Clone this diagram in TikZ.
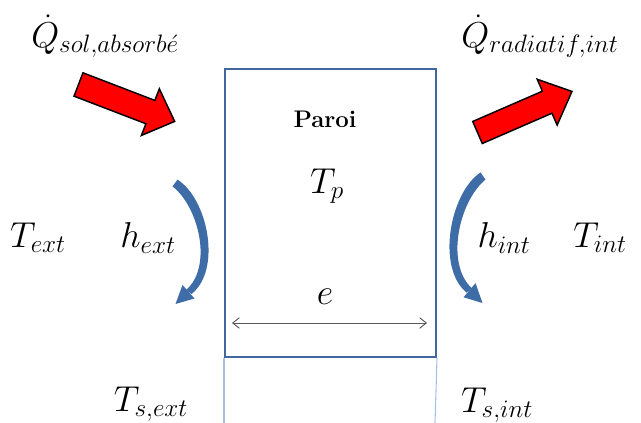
\RequirePackage{fix-cm}
\documentclass[tikz,border=0pt]{standalone}
\usetikzlibrary{arrows.meta}
\definecolor{wallblue}{HTML}{41679E}
\definecolor{lightblue}{HTML}{A7C0E0}
\definecolor{convblue}{HTML}{3E6CA6}
\definecolor{dimgray}{HTML}{595959}
\tikzset{
  x=0.75pt, y=-0.75pt,
  lbl/.style={inner sep=0pt, font=\fontsize{27}{32}\selectfont},
  wall/.style={draw=wallblue, line width=1.5pt},
  extline/.style={draw=lightblue, line width=0.8pt},
  redarrow/.style={fill=red, draw=black, line width=1.1pt, line join=miter},
  dimline/.style={draw=dimgray, line width=0.7pt, {Straight Barb[length=5pt,width=8pt]}-{Straight Barb[length=5pt,width=8pt]}},
  convshape/.pic={
    \fill[convblue] (2.5,-3.4) .. controls (33,16) and (47,87) .. (16.5,111)
      -- (11,107) .. controls (38,84) and (24,24) .. (-2.5,3.4) -- cycle;
    \fill[convblue] (7.5,102) -- (0.5,121) -- (19.5,115.5) -- cycle;
  }
}
\begin{document}
\begin{tikzpicture}
\path[use as bounding box] (0,0) rectangle (641,423);
% wall
\node[wall, minimum width=211*0.75pt, minimum height=288*0.75pt, inner sep=0pt, anchor=north west] (wallbox) at (224,68) {};
\coordinate (bl) at (224,423);
\coordinate (br) at (435,423);
\draw[extline] (wallbox.south west) -- (bl);
\draw[extline] (wallbox.south east) -- (br);
% thickness dimension
\coordinate (dl) at (232,323);
\coordinate (dr) at (427,323);
\draw[dimline] (dl) -- (dr);
\node[lbl] (e) at (325,297) {$e$};
% labels
\node[inner sep=0pt, font=\fontsize{18}{21}\selectfont\bfseries] (paroi) at (325,119) {Paroi};
\node[lbl] (tp) at (327,186) {$T_p$};
\node[lbl] (text) at (38,238) {$T_{ext}$};
\node[lbl] (hext) at (148,238) {$h_{ext}$};
\node[lbl] (hint) at (504,238) {$h_{int}$};
\node[lbl] (tint) at (600,238) {$T_{int}$};
\node[lbl] (tsext) at (151,404) {$T_{s,ext}$};
\node[lbl] (tsint) at (497,405) {$T_{s,int}$};
\node[lbl] (qsol) at (105,36) {$\dot{Q}_{sol,absorb\acute{e}}$};
\node[lbl] (qrad) at (540,36) {$\dot{Q}_{radiatif,int}$};
% red arrows
\begin{scope}[shift={(78.5,84.5)}, rotate=-21]
  \draw[redarrow] (0,-12.5) -- (77,-12.5) -- (77,-25) -- (103,0) -- (77,25) -- (77,12.5) -- (0,12.5) -- cycle;
\end{scope}
\begin{scope}[shift={(477.5,132.5)}, rotate=23.5]
  \draw[redarrow] (0,-12) -- (76,-12) -- (76,-25) -- (103,0) -- (76,25) -- (76,12) -- (0,12) -- cycle;
\end{scope}
% convection arrows
\pic at (175,183) {convshape};
\pic[xscale=-1, yscale=1.05] at (483,176) {convshape};
\end{tikzpicture}
\end{document}
